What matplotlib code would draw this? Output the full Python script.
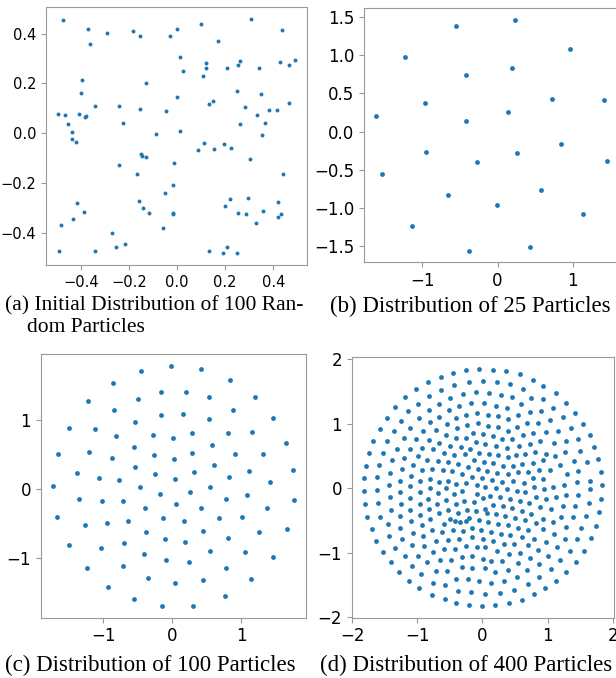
import numpy as np
import matplotlib
matplotlib.use("Agg")
import matplotlib.pyplot as plt

# (a) initial distribution of 100 random particles
a_points = [
    (-0.476, 0.453), (-0.372, 0.419), (-0.362, 0.357), (-0.294, 0.401), (-0.185, 0.412),
    (-0.153, 0.392), (-0.030, 0.389), (-0.002, 0.417), (0.098, 0.437), (0.170, 0.369),
    (0.306, 0.458), (0.438, 0.413), (0.010, 0.306), (0.026, 0.249), (0.108, 0.228),
    (0.119, 0.280), (0.120, 0.263), (0.206, 0.260), (0.255, 0.275), (0.260, 0.288),
    (0.341, 0.260), (0.427, 0.285), (0.467, 0.275), (0.490, 0.293), (-0.397, 0.214),
    (-0.402, 0.161), (-0.131, 0.201), (-0.497, 0.078), (-0.469, 0.073), (-0.453, 0.036),
    (-0.440, 0.005), (-0.440, -0.021), (-0.410, 0.076), (-0.385, 0.066), (-0.378, 0.070),
    (-0.341, 0.108), (-0.242, 0.109), (-0.224, 0.041), (-0.153, 0.098), (-0.087, -0.001),
    (-0.045, 0.088), (-0.002, 0.145), (0.010, 0.011), (0.131, 0.116), (0.149, 0.128),
    (0.251, 0.169), (0.260, 0.039), (0.284, 0.105), (0.334, 0.073), (0.347, 0.157),
    (0.353, -0.007), (0.366, 0.042), (0.381, 0.093), (0.415, 0.093), (0.467, 0.121),
    (-0.420, -0.036), (0.088, -0.067), (0.110, -0.040), (0.152, -0.063), (0.195, -0.044),
    (0.224, -0.059), (0.302, -0.101), (0.442, -0.164), (-0.149, -0.083), (-0.148, -0.092),
    (-0.128, -0.095), (-0.242, -0.125), (-0.015, -0.120), (-0.169, -0.161), (-0.016, -0.205),
    (-0.049, -0.240), (-0.159, -0.271), (-0.144, -0.297), (-0.119, -0.320), (-0.019, -0.317),
    (-0.016, -0.324), (-0.418, -0.277), (-0.388, -0.316), (-0.434, -0.343), (-0.483, -0.368),
    (-0.492, -0.472), (-0.344, -0.470), (-0.273, -0.400), (-0.256, -0.456), (-0.218, -0.441),
    (-0.060, -0.380), (0.131, -0.472), (0.192, -0.480), (0.206, -0.455), (0.251, -0.478),
    (0.201, -0.291), (0.220, -0.262), (0.255, -0.317), (0.287, -0.323), (0.295, -0.258),
    (0.330, -0.359), (0.359, -0.310), (0.420, -0.275), (0.420, -0.335), (0.434, -0.322),
]
a_ticks = [-0.4, -0.2, 0.0, 0.2, 0.4]

# (b) 25 particles
b_points = [
    (-1.624, 0.204), (-1.233, 0.972), (-0.968, 0.370), (-0.553, 1.378), (-0.424, 0.745),
    (-0.416, 0.139), (0.136, 0.253), (0.198, 0.828), (0.233, 1.461), (0.727, 0.431),
    (0.962, 1.081), (1.420, 0.410), (-1.536, -0.559), (-0.949, -0.267), (-0.656, -0.830),
    (-0.278, -0.394), (0.264, -0.276), (0.851, -0.162), (1.464, -0.381), (0.584, -0.764),
    (-0.011, -0.961), (-1.140, -1.236), (1.136, -1.083), (-0.376, -1.559), (0.429, -1.515),
]
b_xticks = [-1, 0, 1]
b_yticks = [-1.5, -1.0, -0.5, 0.0, 0.5, 1.0, 1.5]

# (c) 100 particles
c_points = [
    (-0.016, 1.777), (0.423, 1.734), (-0.449, 1.710), (0.832, 1.575), (-0.854, 1.536),
    (-0.165, 1.406), (0.197, 1.406), (-0.502, 1.305), (0.539, 1.325), (1.194, 1.334),
    (-1.230, 1.267), (-0.844, 1.142), (0.886, 1.142), (-0.165, 1.074), (0.153, 1.088),
    (-0.536, 0.973), (0.529, 1.007), (1.458, 1.022), (-1.499, 0.886), (-1.129, 0.871),
    (-0.819, 0.762), (-0.276, 0.785), (0.009, 0.741), (0.293, 0.814), (0.814, 0.814),
    (1.155, 0.819), (1.656, 0.665), (-1.658, 0.501), (-1.210, 0.535), (-0.873, 0.448),
    (-0.550, 0.611), (-0.262, 0.496), (0.018, 0.429), (0.283, 0.520), (0.572, 0.631),
    (0.914, 0.506), (1.319, 0.506), (-1.388, 0.227), (-1.066, 0.164), (-0.767, 0.130),
    (-0.545, 0.323), (-0.247, 0.212), (0.033, 0.140), (0.322, 0.246), (0.601, 0.351),
    (0.823, 0.169), (1.121, 0.256), (1.753, 0.275), (1.425, 0.101), (-1.735, 0.039),
    (-0.468, 0.025), (0.543, 0.029), (0.264, -0.039), (-0.184, -0.077), (-1.360, -0.149),
    (-1.027, -0.173), (-0.718, -0.173), (0.057, -0.212), (0.779, -0.145), (1.092, -0.087),
    (1.767, -0.163), (-0.396, -0.279), (0.418, -0.279), (1.382, -0.275), (-1.668, -0.409),
    (-0.140, -0.423), (0.678, -0.415), (1.010, -0.409), (-0.637, -0.458), (0.168, -0.467),
    (-1.263, -0.516), (-0.941, -0.496), (-0.382, -0.626), (0.452, -0.603), (1.266, -0.621),
    (1.671, -0.582), (-0.103, -0.723), (0.192, -0.770), (0.814, -0.704), (-0.704, -0.780),
    (-1.494, -0.819), (-1.032, -0.853), (-0.410, -0.944), (0.543, -0.900), (1.059, -0.915),
    (1.458, -0.983), (-0.088, -1.036), (0.250, -1.065), (-1.238, -1.146), (-0.718, -1.123),
    (0.775, -1.142), (-0.353, -1.291), (0.442, -1.325), (1.146, -1.305), (-0.931, -1.416),
    (0.033, -1.363), (-0.555, -1.594), (0.764, -1.556), (-0.146, -1.691), (0.308, -1.691),
]
c_ticks = [-1, 0, 1]

# (d) 400 particles
d_points = [
    # upper left
    (-0.247, 1.831), (-0.048, 1.847), (-0.446, 1.790), (-0.640, 1.728), (-0.834, 1.646),
    (0.003, 1.661), (-0.206, 1.641), (-0.431, 1.599), (-1.023, 1.532), (-0.635, 1.527),
    (-0.094, 1.486), (-0.293, 1.460), (-0.819, 1.434), (-1.192, 1.409), (-0.497, 1.398),
    (0.028, 1.316), (-0.176, 1.316), (-0.355, 1.280), (-0.671, 1.311), (-0.988, 1.311),
    (-1.340, 1.254), (-1.136, 1.203), (-0.824, 1.213), (-0.518, 1.208), (-0.084, 1.167),
    (-0.247, 1.136), (-0.406, 1.089), (-0.661, 1.105), (-0.982, 1.084), (-1.473, 1.094),
    (-1.258, 1.048), (-0.809, 1.022), (-0.064, 1.007), (-0.237, 0.981), (-0.385, 0.930),
    (-0.543, 0.991), (-1.580, 0.924), (-1.105, 0.935), (-0.911, 0.893), (-0.707, 0.899),
    (-1.360, 0.888), (0.008, 0.837), (-0.140, 0.857), (-0.554, 0.826), (-0.406, 0.785),
    (-0.252, 0.775), (-1.212, 0.780), (-0.814, 0.754), (-1.682, 0.729), (-1.462, 0.734),
    (-1.018, 0.770), (-0.099, 0.713), (-0.661, 0.708), (-0.492, 0.662), (-0.334, 0.641),
    (-0.191, 0.615), (-1.319, 0.615), (-1.115, 0.610), (-0.921, 0.626), (-0.763, 0.605),
    (-1.743, 0.543), (-1.534, 0.548), (-0.048, 0.553), (-0.595, 0.548), (-0.431, 0.517),
    (-0.273, 0.528), (-0.988, 0.492), (-1.202, 0.466), (-1.391, 0.430), (-0.845, 0.445),
    (-0.681, 0.420), (-0.533, 0.399), (-0.370, 0.368), (0.018, 0.414), (-0.135, 0.440),
    (-1.789, 0.347), (-1.585, 0.363), (-1.069, 0.353), (-0.222, 0.327), (-1.243, 0.296),
    (-0.931, 0.286), (-0.768, 0.301), (-0.610, 0.275), (-0.467, 0.260), (-0.069, 0.296),
    (-1.422, 0.234), (-0.314, 0.224), (-0.166, 0.172), (-1.815, 0.152), (-1.616, 0.167),
    (-1.095, 0.193), (-1.263, 0.116), (-0.952, 0.105), (-0.671, 0.100), (-0.523, 0.116),
    (-0.406, 0.069), (-0.252, 0.080), (-1.432, 0.054), (-0.089, 0.043), (-0.804, 0.146),
    # upper right
    (0.156, 1.841), (0.365, 1.816), (0.575, 1.764), (0.769, 1.677), (0.937, 1.589),
    (0.217, 1.641), (0.421, 1.610), (0.621, 1.537), (1.126, 1.471), (0.100, 1.471),
    (0.284, 1.440), (0.457, 1.414), (0.748, 1.404), (0.932, 1.388), (1.289, 1.326),
    (0.202, 1.280), (0.381, 1.244), (0.595, 1.301), (1.090, 1.249), (0.896, 1.197),
    (0.728, 1.187), (1.427, 1.172), (0.085, 1.136), (0.238, 1.115), (0.391, 1.069),
    (0.544, 1.130), (1.233, 1.100), (1.039, 1.058), (0.860, 1.012), (0.687, 1.012),
    (1.550, 0.997), (0.090, 0.971), (0.238, 0.945), (0.386, 0.893), (0.524, 0.955),
    (1.356, 0.935), (1.162, 0.893), (0.978, 0.868), (0.779, 0.863), (0.615, 0.821),
    (0.161, 0.806), (0.299, 0.760), (0.457, 0.760), (1.657, 0.827), (1.468, 0.760),
    (1.279, 0.734), (1.100, 0.708), (0.891, 0.729), (0.723, 0.693), (0.039, 0.682),
    (0.202, 0.651), (0.370, 0.626), (0.564, 0.651), (1.708, 0.641), (1.499, 0.574),
    (1.274, 0.564), (1.111, 0.507), (0.983, 0.538), (0.814, 0.559), (0.661, 0.528),
    (0.100, 0.528), (0.243, 0.512), (0.386, 0.481), (0.513, 0.517), (1.779, 0.456),
    (1.606, 0.404), (1.407, 0.425), (1.197, 0.363), (0.937, 0.435), (0.769, 0.394),
    (0.610, 0.383), (0.467, 0.337), (0.309, 0.347), (0.166, 0.389), (0.074, 0.270),
    (0.222, 0.234), (0.396, 0.219), (0.544, 0.244), (0.692, 0.255), (0.871, 0.280),
    (1.044, 0.286), (1.299, 0.224), (1.473, 0.265), (1.820, 0.249), (-0.012, 0.157),
    (0.141, 0.121), (0.299, 0.100), (0.462, 0.105), (0.631, 0.085), (0.779, 0.157),
    (0.937, 0.146), (1.090, 0.023), (1.259, 0.054), (1.447, 0.090), (1.647, 0.116),
    (1.841, 0.049),
    # lower left
    (-1.825, -0.049), (-1.615, -0.034), (-1.263, -0.059), (-0.962, -0.059), (-0.681, -0.075),
    (-0.441, -0.090), (-0.314, -0.049), (-0.089, -0.090), (-1.105, 0.028), (-0.809, 0.008),
    (-0.554, -0.003), (-1.804, -0.245), (-1.605, -0.229), (-1.427, -0.142), (-1.253, -0.240),
    (-1.105, -0.152), (-0.962, -0.240), (-0.829, -0.162), (-0.691, -0.240), (-0.559, -0.183),
    (-0.411, -0.240), (-0.278, -0.193), (-0.130, -0.219), (0.003, -0.152), (-1.774, -0.446),
    (-1.580, -0.441), (-1.411, -0.338), (-1.268, -0.435), (-1.105, -0.332), (-0.957, -0.410),
    (-0.819, -0.322), (-0.799, -0.482), (-0.661, -0.389), (-0.528, -0.338), (-0.497, -0.482),
    (-0.375, -0.389), (-0.339, -0.528), (-0.242, -0.332), (-0.207, -0.466), (-0.094, -0.353),
    (-0.053, -0.492), (0.039, -0.322), (-1.692, -0.626), (-1.631, -0.812), (-1.447, -0.559),
    (-1.442, -0.745), (-1.263, -0.611), (-1.233, -0.786), (-1.100, -0.513), (-1.069, -0.693),
    (-0.931, -0.575), (-0.906, -0.739), (-0.773, -0.652), (-0.717, -0.812), (-0.620, -0.683),
    (-0.595, -0.554), (-0.523, -0.806), (-0.457, -0.642), (-0.416, -0.513), (-0.365, -0.781),
    (-0.304, -0.657), (-0.258, -0.502), (-0.166, -0.616), (-0.155, -0.760), (-0.028, -0.652),
    (0.008, -0.791), (-1.534, -0.987), (-1.350, -0.930), (-1.197, -1.049), (-1.079, -0.879),
    (-0.988, -1.054), (-0.891, -0.894), (-0.763, -0.987), (-0.651, -1.116), (-0.595, -0.946),
    (-0.482, -1.110), (-0.421, -0.946), (-0.314, -1.069), (-0.252, -0.894), (-0.166, -1.049),
    (-0.089, -0.909), (0.003, -1.100), (0.039, -0.914), (-1.406, -1.152), (-1.284, -1.296),
    (-1.125, -1.435), (-1.085, -1.213), (-0.937, -1.332), (-0.845, -1.152), (-0.763, -1.466),
    (-0.712, -1.291), (-0.569, -1.507), (-0.538, -1.291), (-0.406, -1.414), (-0.309, -1.229),
    (-0.227, -1.409), (-0.155, -1.234), (-0.058, -1.445), (0.039, -1.234), (-0.967, -1.548),
    (-0.773, -1.662), (-0.579, -1.718), (-0.401, -1.785), (-0.370, -1.595), (-0.201, -1.811),
    (-0.171, -1.610), (-0.002, -1.826), (0.039, -1.636),
    # lower right
    (0.044, 0.013), (0.202, -0.003), (0.370, -0.018), (0.524, -0.039), (0.656, -0.059),
    (0.789, 0.013), (0.947, -0.008), (1.652, -0.018), (0.120, -0.126), (0.273, -0.142),
    (0.421, -0.162), (0.569, -0.193), (0.718, -0.229), (0.820, -0.131), (0.978, -0.168),
    (1.126, -0.142), (1.279, -0.106), (1.468, -0.101), (1.631, -0.235), (1.820, -0.168),
    (0.166, -0.265), (0.314, -0.281), (0.457, -0.307), (0.605, -0.348), (0.753, -0.394),
    (0.886, -0.296), (1.060, -0.327), (1.233, -0.281), (1.427, -0.276), (1.590, -0.425),
    (1.795, -0.374), (0.064, -0.384), (0.202, -0.405), (0.345, -0.425), (0.493, -0.461),
    (0.651, -0.497), (0.820, -0.544), (0.932, -0.482), (1.202, -0.441), (1.396, -0.451),
    (0.090, -0.528), (0.238, -0.549), (0.386, -0.575), (0.544, -0.611), (0.707, -0.652),
    (0.932, -0.636), (1.090, -0.528), (1.106, -0.703), (1.289, -0.605), (1.509, -0.616),
    (1.739, -0.580), (0.125, -0.678), (0.279, -0.708), (0.427, -0.724), (0.600, -0.760),
    (0.799, -0.791), (0.983, -0.832), (1.269, -0.781), (1.458, -0.786), (1.662, -0.770),
    (0.166, -0.827), (0.324, -0.863), (0.483, -0.873), (0.702, -0.889), (0.855, -0.961),
    (1.009, -1.049), (1.141, -0.909), (1.340, -0.971), (1.560, -0.971), (0.227, -0.976),
    (0.411, -1.023), (0.580, -1.002), (0.723, -1.079), (0.136, -1.131), (0.299, -1.136),
    (0.539, -1.167), (0.871, -1.172), (1.197, -1.121), (1.432, -1.152), (0.197, -1.296),
    (0.391, -1.270), (0.687, -1.275), (0.866, -1.373), (1.049, -1.260), (1.289, -1.306),
    (0.136, -1.466), (0.335, -1.445), (0.534, -1.378), (0.692, -1.486), (1.136, -1.440),
    (0.963, -1.548), (0.263, -1.626), (0.478, -1.574), (0.794, -1.646), (0.605, -1.729),
    (0.406, -1.785), (0.197, -1.816),
]
d_ticks = [-2, -1, 0, 1, 2]

captions = [
    "(a) Initial Distribution of 100 Ran-",
    "dom Particles",
    "(b) Distribution of 25 Particles",
    "(c) Distribution of 100 Particles",
    "(d) Distribution of 400 Particles",
]

DOT = "#1f77b4"
SPINE = "0.6"


def draw_panel(fig, rect, points, xticks, yticks, dot_size, label_size):
    ax = fig.add_axes(rect)
    pts = np.array(points)
    ax.scatter(pts[:, 0], pts[:, 1], s=dot_size, color=DOT, linewidths=0)
    ax.set_xticks(xticks)
    ax.set_yticks(yticks)
    for s in ax.spines.values():
        s.set_color(SPINE)
    ax.tick_params(colors=SPINE, labelcolor="black", labelsize=label_size,
                   length=3.5, width=0.8)
    return ax


fig = plt.figure(figsize=(6.16, 6.78), dpi=100)

draw_panel(fig, [0.0747, 0.6091, 0.4232, 0.3801], a_points, a_ticks, a_ticks, 8, 10.5)
draw_panel(fig, [0.5909, 0.6131, 0.4140, 0.3746], b_points, b_xticks, b_yticks, 12, 12)
draw_panel(fig, [0.0661, 0.0889, 0.4307, 0.3889], c_points, c_ticks, c_ticks, 12, 12)
draw_panel(fig, [0.5709, 0.0889, 0.4263, 0.3841], d_points, d_ticks, d_ticks, 12, 12)

# sub-captions in a Times-like serif
serif = dict(family="Liberation Serif", fontsize=16.5, va="center", ha="left")
fig.text(5 / 616, 1 - 306 / 678, captions[0], **dict(serif, fontsize=15.5))
fig.text(27 / 616, 1 - 328 / 678, captions[1], **dict(serif, fontsize=15.5))
fig.text(330 / 616, 1 - 306 / 678, captions[2], **serif)
fig.text(5 / 616, 1 - 665 / 678, captions[3], **serif)
fig.text(320 / 616, 1 - 665 / 678, captions[4], **serif)

fig.savefig("out.png", dpi=100)
